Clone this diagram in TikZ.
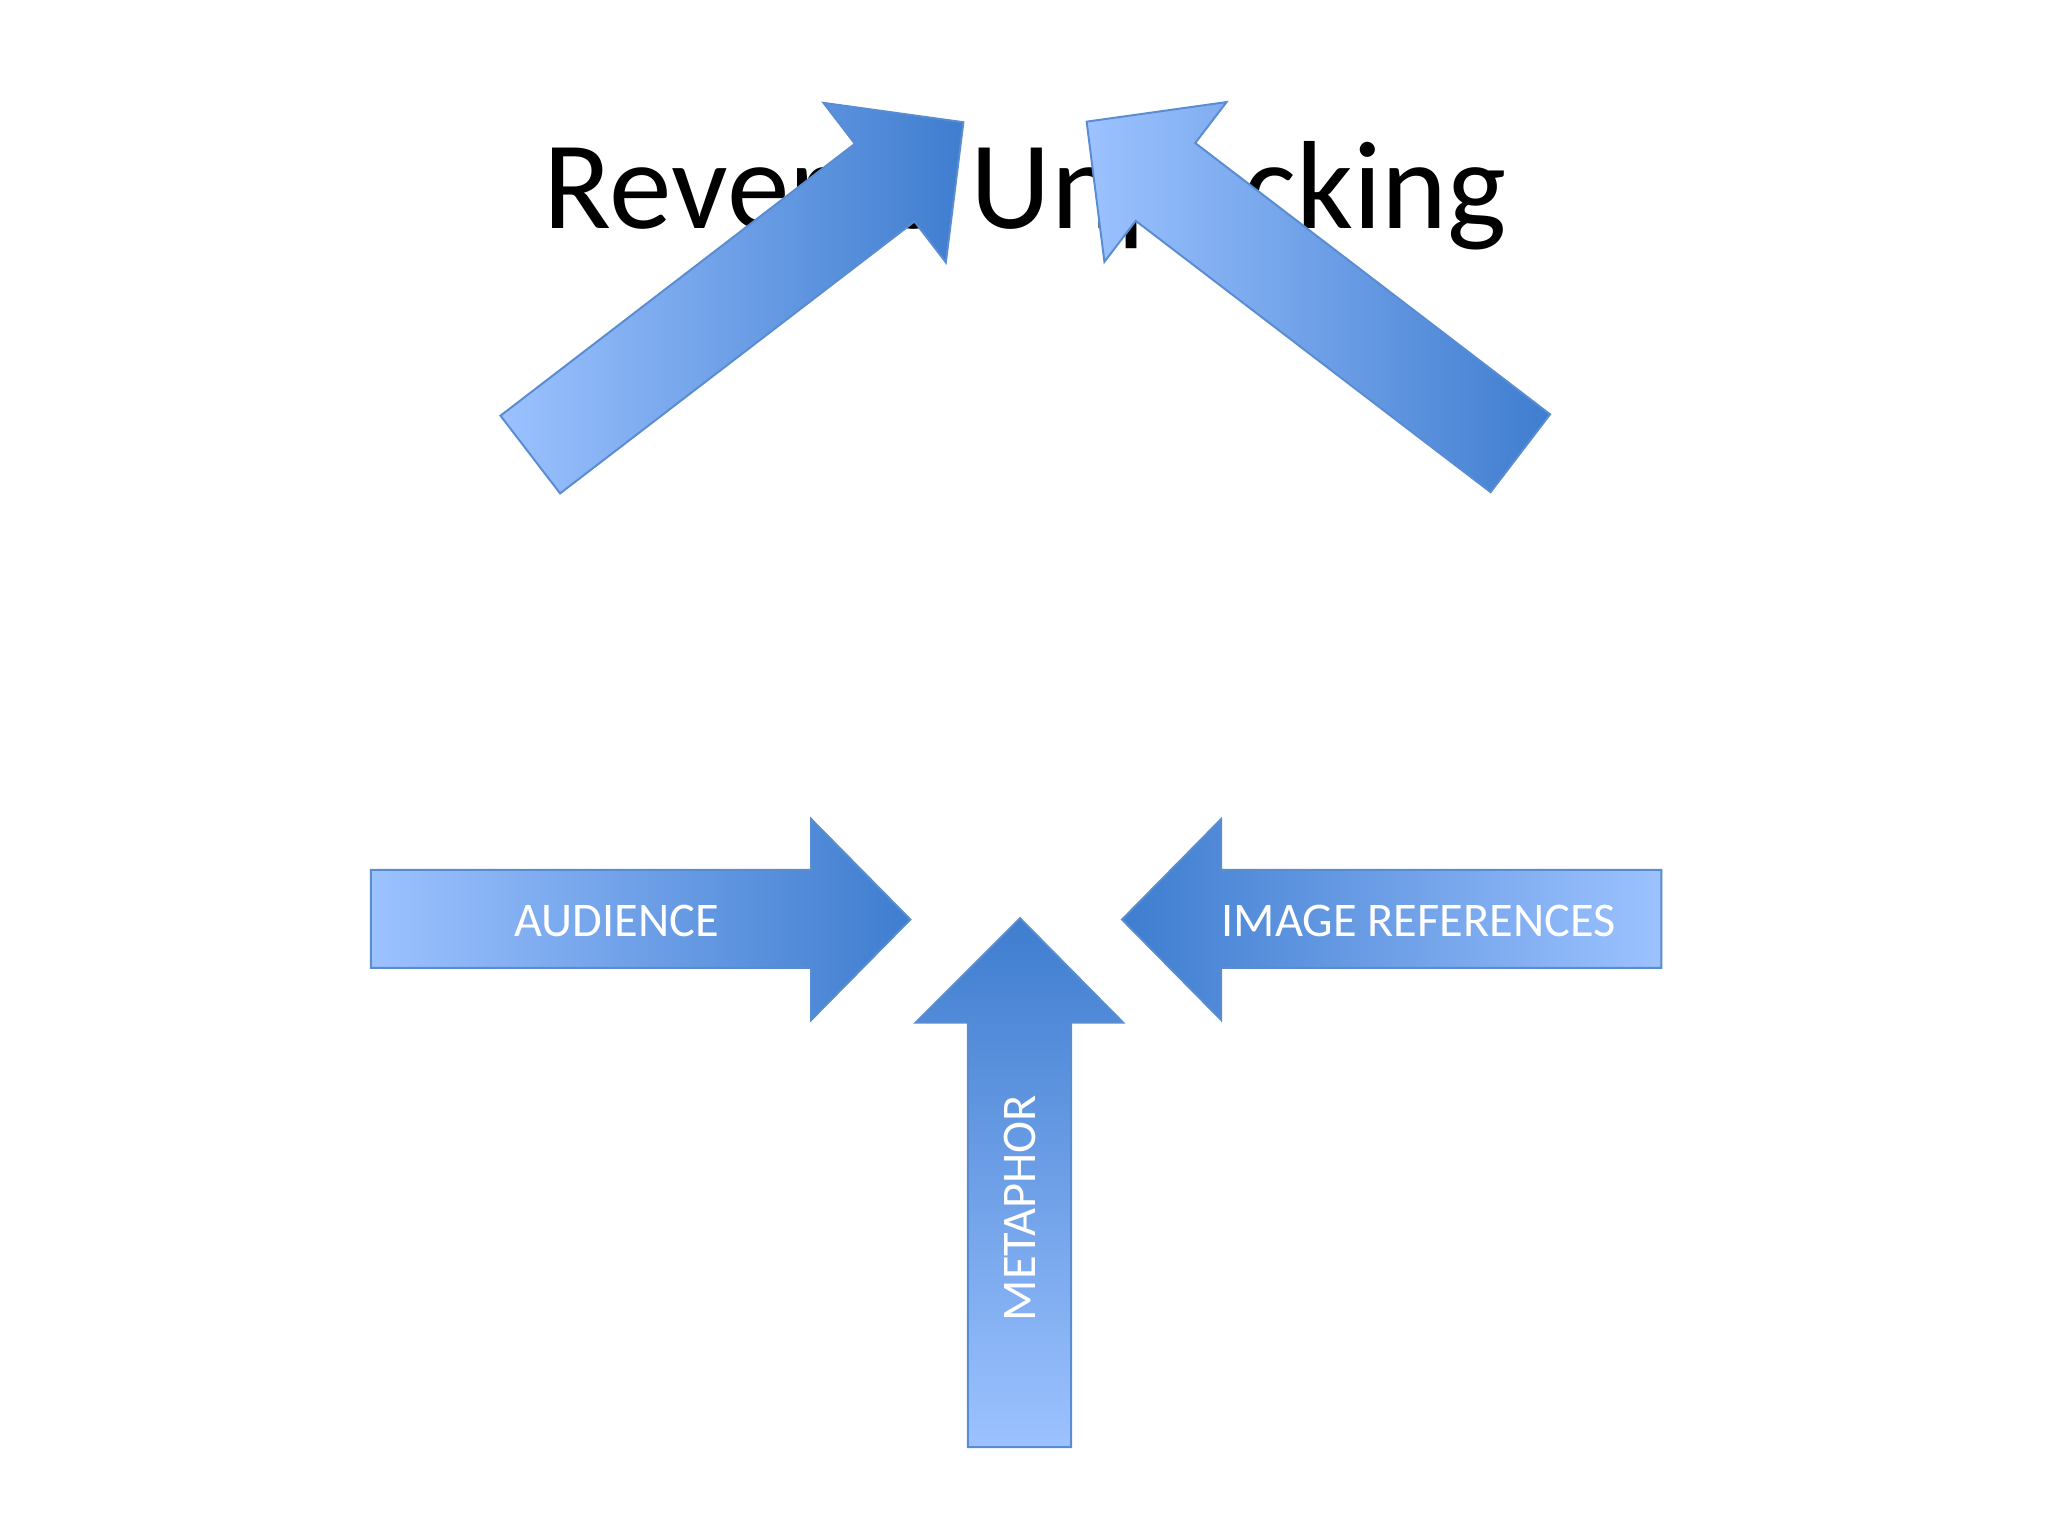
\documentclass[tikz,border=0pt]{standalone}
\usepackage{fontspec}
\setmainfont{Carlito}
\begin{document}
\begin{tikzpicture}[x=1pt,y=-1pt,
  arr/.style={draw=edge,line width=1.5pt,line join=miter},
  lbl/.style={text=white,font=\fontsize{37}{42}\selectfont}]
\definecolor{light}{HTML}{9CC2FF}
\definecolor{dark}{HTML}{3F7DCF}
\definecolor{edge}{HTML}{5A8CD2}
\useasboundingbox (0,0) rectangle (1568,1176);
\node (title) at (785,150) {\fontsize{96}{104}\selectfont Reverse Unpacking};
% AUDIENCE
\path[arr,left color=light,right color=dark] (284,666) -- (621,666) -- (621,627) -- (697,704) -- (621,781) -- (621,741) -- (284,741) -- cycle;
\node[lbl] (aud) at (472,705) {AUDIENCE};
% IMAGE REFERENCES
\path[arr,left color=dark,right color=light] (1272,666) -- (935,666) -- (935,627) -- (859,704) -- (935,781) -- (935,741) -- (1272,741) -- cycle;
\node[lbl] (img) at (1086,705) {IMAGE REFERENCES};
% METAPHOR
\path[arr,top color=dark,bottom color=light] (741,1108) -- (741,783) -- (701,783) -- (781,703) -- (860,783) -- (820,783) -- (820,1108) -- cycle;
\node[lbl,rotate=90] (met) at (781,925) {METAPHOR};
% DESCRIPTION
\begin{scope}[shift={(406,348)},rotate=37.5]
\path[arr,left color=light,right color=dark] (0,-37.5) -- (342,-37.5) -- (342,-77) -- (418,0) -- (342,77) -- (342,37.5) -- (0,37.5) -- cycle;
\end{scope}
\node[lbl,rotate=-37] (desc) at (556,464) {DESCRIPTION};
% EMOTION
\begin{scope}[shift={(1164,347)},rotate=142.6]
\path[arr,left color=light,right color=dark] (0,-37.5) -- (342,-37.5) -- (342,-77) -- (418,0) -- (342,77) -- (342,37.5) -- (0,37.5) -- cycle;
\end{scope}
\node[lbl,rotate=37] (emo) at (1012,464) {EMOTION};
\end{tikzpicture}
\end{document}
